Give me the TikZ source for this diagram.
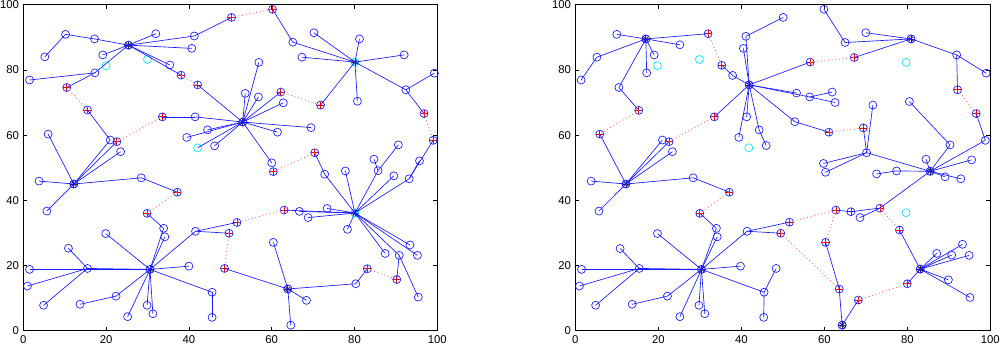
\documentclass[tikz,border=0pt]{standalone}
\usepackage{fontspec}
\setmainfont{Liberation Sans}
\usepackage{xcolor}
\usepackage{tikz}
\definecolor{cAzul}{HTML}{1A1AFF}
\definecolor{cVerm}{HTML}{FF3B3B}
\definecolor{cCiano}{HTML}{00E5FF}

\begin{document}
\begin{tikzpicture}[
  x=0.75pt,y=0.75pt,
  sen/.style={circle,draw=cAzul,line width=0.5pt,minimum size=6pt,inner sep=0pt},
  dead/.style={sen,draw=cCiano},
  rel/.style={sen,path picture={
      \draw[red,line width=0.55pt] ([xshift=-2.6pt]path picture bounding box.center) -- ([xshift=2.6pt]path picture bounding box.center);
      \draw[red,line width=0.55pt] ([yshift=-2.6pt]path picture bounding box.center) -- ([yshift=2.6pt]path picture bounding box.center);}},
  hd/.style={sen,line width=0.65pt,path picture={
      \foreach \a in {0,45,90,135}
        \draw[black!85,line width=0.55pt] ([shift={(\a:2.7pt)}]path picture bounding box.center) -- ([shift={(\a+180:2.7pt)}]path picture bounding box.center);}},
  hdc/.style={hd,draw=cCiano},
  lnk/.style={draw=cAzul,line width=0.5pt},
  hop/.style={draw=cVerm!75,dotted,line width=0.7pt},
  frm/.style={draw=black,line width=0.5pt},
  tkx/.style={anchor=north,inner sep=0pt,yshift=-3.6pt,font=\fontsize{8.5pt}{10pt}\selectfont},
  tky/.style={anchor=east,inner sep=0pt,xshift=-3pt,font=\fontsize{8.5pt}{10pt}\selectfont}
]
\useasboundingbox (0,0) rectangle (1000,347);

% ---- painel esquerdo
\begin{scope}[shift={(17.475pt,12.225pt)},x=3.105pt,y=2.445pt]
\draw[frm] (0,0) rectangle (100,100);
\foreach \t in {0,20,...,100} {
  \draw[frm] (\t,0) -- ++(0,3pt);   \draw[frm] (\t,100) -- ++(0,-3pt);
  \draw[frm] (0,\t) -- ++(3pt,0);   \draw[frm] (100,\t) -- ++(-3pt,0);
  \node[tkx] (Lx\t) at (\t,0) {\t};
  \node[tky] (Ly\t) at (0,\t) {\t};
}
% cabecas de grupo
\foreach \n/\x/\y in {A/25.4/87.6,B/53.0/64.0,C/12.2/45.0,F/63.9/12.8,G/30.6/18.8}
  \node[hd] (L\n) at (\x,\y) {};
\foreach \n/\x/\y in {D/80.1/82.4,E/80.1/36.1}
  \node[hdc] (L\n) at (\x,\y) {};
% retransmissores
\foreach \n/\x/\y in {r1/50.3/96.1,r2/60.2/98.6,r3/38.1/78.4,r4/42.1/75.4,r5/10.5/74.6,
    r6/15.5/67.7,r7/22.6/58.0,r8/33.6/65.6,r9/62.2/73.2,r10/71.8/69.2,r11/96.8/66.6,
    r12/99.0/58.4,r13/70.4/54.6,r14/60.4/48.8,r15/63.0/37.0,r16/51.6/33.2,r17/49.7/29.9,
    r18/48.6/19.1,r19/37.2/42.5,r20/29.9/36.0,r21/83.1/19.0,r22/90.2/15.7}
  \node[rel] (L\n) at (\x,\y) {};
% nos comuns
\foreach \n/\x/\y in {n1/10.2/90.9,n2/5.2/84.0,n3/17.2/89.5,n4/32.0/91.1,n5/41.3/90.4,
    n6/40.7/86.6,n7/19.2/84.6,n8/17.3/79.1,n9/1.5/76.9,n10/35.4/81.5,n11/21.0/58.5,
    n12/23.5/54.9,n13/6.0/60.3,n14/41.5/65.6,n15/39.5/59.3,n16/44.5/61.6,n17/46.2/56.7,
    n18/65.1/88.5,n19/70.2/91.4,n20/81.2/89.5,n21/92.0/84.6,n22/99.3/79.0,n23/92.4/73.9,
    n24/67.3/83.9,n25/80.7/70.4,n26/56.9/82.3,n27/53.6/72.8,n28/56.8/71.7,n29/62.8/69.9,
    n30/69.5/62.3,n31/61.4/60.9,n32/60.0/51.5,n33/72.8/48.0,n34/77.8/49.0,n35/84.7/52.6,
    n36/85.7/49.1,n37/90.6/57.0,n38/89.5/47.5,n39/93.2/46.6,n40/95.7/52.1,n41/73.4/37.5,
    n42/66.7/36.6,n43/68.8/34.7,n44/78.3/31.1,n45/87.4/23.7,n46/93.4/26.3,n47/95.2/23.1,
    n48/90.8/23.1,n49/95.4/10.3,n50/80.3/14.4,n51/60.4/27.1,n52/68.4/9.3,n53/64.6/1.7,
    n54/3.8/45.9,n55/5.7/36.7,n56/28.5/46.9,n57/33.9/31.4,n58/34.2/28.8,n59/19.9/29.8,
    n60/10.9/25.3,n61/15.5/19.1,n62/1.5/18.8,n63/1.0/13.7,n64/4.9/7.8,n65/13.7/8.1,
    n66/22.4/10.6,n67/25.2/4.3,n68/29.9/7.8,n69/31.3/5.2,n70/40.0/19.8,n71/45.6/11.8,
    n72/45.6/4.1,n73/41.6/30.5}
  \node[sen] (L\n) at (\x,\y) {};
% nos mortos
\foreach \n/\x/\y in {c1/20.0/81.3,c2/30.0/83.2,c3/42.1/56.1}
  \node[dead] (L\n) at (\x,\y) {};
% ---- ligacoes
\foreach \a/\b in {n3/A,n1/n3,n2/n1,n4/A,n5/A,n5/r1,n6/A,n7/A,n8/A,n9/n8,r5/n8,n10/A,r3/A,
    r4/B,r6/n11,n11/C,r7/C,n12/C,n13/C,n14/B,r8/n14,n15/B,n16/B,n17/B,c3/B,n26/B,n27/B,
    n28/B,r9/B,n29/B,n30/B,n31/B,n32/B,r2/n18,n18/D,n19/D,n20/D,n21/D,n22/n23,n23/D,
    r11/n23,n24/D,n25/D,r10/D,r13/n33,n33/E,n34/E,n35/n36,n37/n36,n36/E,n38/E,n39/E,
    r12/n39,n40/n39,n41/E,n42/E,n43/E,r15/E,n44/E,n45/E,n46/E,n47/E,n48/E,n48/r22,n49/n48,
    r21/n50,n50/F,n51/F,n52/F,n53/F,r18/F,n54/C,n55/C,n56/C,n56/r19,r20/n57,n57/G,n58/G,
    n59/G,n61/G,n60/n61,n62/G,n63/n61,n64/n61,n65/n66,n66/G,n67/G,n68/G,n69/G,n70/G,
    n71/G,n72/n71,n73/G,n73/r17,n73/r16}
  \draw[lnk] (L\a.center) -- (L\b.center);
\foreach \a/\b in {r1/r2,r3/r4,r5/r6,r7/r8,r9/r10,r11/r12,r13/r14,r15/r16,r17/r18,r19/r20,r21/r22}
  \draw[hop] (L\a.center) -- (L\b.center);
\end{scope}

% ---- painel direito
\begin{scope}[shift={(431.475pt,12.225pt)},x=3.1125pt,y=2.445pt]
\draw[frm] (0,0) rectangle (100,100);
\foreach \t in {0,20,...,100} {
  \draw[frm] (\t,0) -- ++(0,3pt);   \draw[frm] (\t,100) -- ++(0,-3pt);
  \draw[frm] (0,\t) -- ++(3pt,0);   \draw[frm] (100,\t) -- ++(-3pt,0);
  \node[tkx] (Rx\t) at (\t,0) {\t};
  \node[tky] (Ry\t) at (0,\t) {\t};
}
% cabecas de grupo
\foreach \n/\x/\y in {P/17.0/89.5,Q/41.9/75.4,R/80.9/89.5,S/85.5/48.9,T/83.1/18.9,
    U/64.3/1.7,C/12.2/45.0,G/30.4/18.8}
  \node[hd] (R\n) at (\x,\y) {};
% retransmissores
\foreach \n/\x/\y in {r1/32.0/91.1,r2/35.3/81.4,r3/15.3/67.6,r4/5.9/60.3,r5/33.5/65.6,
    r6/22.6/58.0,r7/56.6/82.4,r8/67.2/83.8,r9/92.1/73.9,r10/96.6/66.6,r11/61.1/60.9,
    r12/69.4/62.2,r13/73.4/37.6,r14/78.1/30.9,r15/66.4/36.5,r16/62.8/37.0,r17/51.6/33.3,
    r18/49.5/29.9,r19/60.3/27.1,r20/63.6/12.8,r21/68.2/9.4,r22/80.0/14.4,r23/37.1/42.5,
    r24/30.0/36.0}
  \node[rel] (R\n) at (\x,\y) {};
% nos comuns
\foreach \n/\x/\y in {n1/10.0/90.9,n2/5.2/83.9,n3/1.4/76.9,n4/25.2/87.7,n5/19.0/84.6,
    n6/17.2/79.1,n7/10.5/74.6,n8/37.9/78.3,n9/41.1/90.3,n10/50.1/96.1,n11/40.5/86.6,
    n12/41.3/65.6,n13/39.4/59.3,n14/44.3/61.6,n15/46.0/56.8,n16/21.0/58.5,n17/23.4/54.9,
    n18/53.3/72.9,n19/56.5/71.7,n20/61.9/73.2,n21/62.6/70.0,n22/52.9/64.1,n23/59.9/98.6,
    n24/65.0/88.4,n25/70.0/91.4,n26/91.9/84.6,n27/99.0/79.0,n28/98.8/58.4,n29/70.2/54.6,
    n30/71.7/69.2,n31/80.5/70.3,n32/90.3/57.0,n33/59.8/51.3,n34/60.3/48.6,n35/84.5/52.6,
    n36/95.5/52.4,n37/72.6/48.1,n38/77.4/49.0,n39/89.1/47.2,n40/92.9/46.6,n41/68.6/34.7,
    n42/87.1/23.7,n43/90.7/23.2,n44/93.3/26.5,n45/94.9/23.1,n46/89.9/15.6,n47/95.1/10.2,
    n48/48.4/19.1,n49/3.8/45.9,n50/5.7/36.7,n51/28.4/46.9,n52/34.0/31.4,n53/34.2/28.8,
    n54/19.8/29.8,n55/10.8/25.2,n56/15.4/19.1,n57/1.5/18.8,n58/1.0/13.7,n59/4.9/7.8,
    n60/13.7/8.1,n61/22.2/10.6,n62/25.2/4.3,n63/29.8/7.8,n64/31.2/5.2,n65/39.8/19.8,
    n66/45.5/11.8,n67/45.4/4.1,n68/41.4/30.5}
  \node[sen] (R\n) at (\x,\y) {};
% nos mortos
\foreach \n/\x/\y in {c1/19.8/81.3,c2/29.9/83.2,c3/41.8/56.1,c4/79.7/82.3,c5/79.7/36.2}
  \node[dead] (R\n) at (\x,\y) {};
% ---- ligacoes
\foreach \a/\b in {n1/P,n2/P,n3/n2,n4/P,n5/P,n6/P,n7/P,r3/n7,r1/P,r4/C,r2/n8,n8/Q,n9/Q,
    n10/n9,n11/Q,r5/Q,n12/Q,n13/Q,n14/Q,n15/n14,r7/Q,n18/Q,n19/Q,n20/n19,n21/n19,n22/Q,
    n22/r11,n16/C,r6/C,n17/C,n49/C,n50/C,n51/C,n51/r23,n23/n24,n24/R,n25/R,r8/R,n26/R,
    n27/n26,n26/r9,r10/n28,n28/S,r12/n29,n30/n29,n29/n33,n29/n34,n29/S,n31/n32,n32/S,
    n35/S,n36/S,n37/n38,n38/S,n39/S,n40/S,r13/S,n41/r13,r16/r15,r15/r13,r14/T,n42/T,
    n43/T,n44/T,n45/T,n46/T,n47/T,r22/T,r19/r20,r20/U,U/r21,r24/n52,n52/G,n53/G,n54/G,
    n56/G,n55/n56,n57/G,n58/n56,n59/n56,n60/n61,n61/G,n62/G,n63/G,n64/G,n65/G,n66/G,
    n67/n66,n48/n66,n68/G,n68/r17,n68/r18}
  \draw[lnk] (R\a.center) -- (R\b.center);
\foreach \a/\b in {r1/r2,r3/r4,r5/r6,r7/r8,r9/r10,r11/r12,r13/r14,r16/r17,r16/r19,
    r18/r20,r21/r22,r23/r24}
  \draw[hop] (R\a.center) -- (R\b.center);
\end{scope}
\end{tikzpicture}
\end{document}
